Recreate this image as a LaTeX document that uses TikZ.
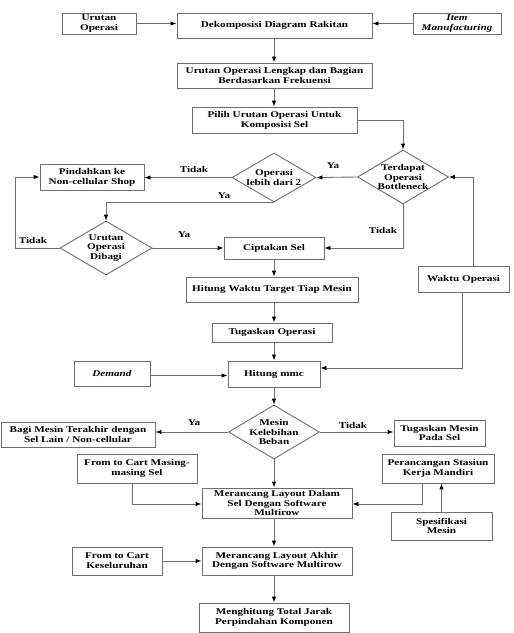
\documentclass[tikz,border=0pt]{standalone}
\usepackage{fontspec}
\setmainfont{Liberation Serif}[FakeStretch=1.27]
\usetikzlibrary{arrows.meta,shapes.geometric,calc}
\definecolor{ln}{HTML}{6E6E6E}
\tikzset{
  box/.style={draw=ln,line width=0.9pt,rectangle,inner sep=0pt,align=center,font=\fontsize{8.8}{9.8}\selectfont\bfseries},
  dia/.style={draw=ln,line width=0.9pt,diamond,inner sep=0pt},
  dtxt/.style={inner sep=0pt,align=center,font=\fontsize{8.8}{9.8}\selectfont\bfseries},
  arr/.style={draw=ln,line width=0.9pt,-{Latex[length=6pt,width=4.5pt,color=black]}},
  lnk/.style={draw=ln,line width=0.9pt},
  lab/.style={inner sep=0pt,font=\fontsize{8.8}{9.8}\selectfont\bfseries}
}
\begin{document}
\begin{tikzpicture}[x=1pt,y=-1pt]
\useasboundingbox (0,0) rectangle (514,633);
% boxes
\node[box,minimum width=74pt,minimum height=21pt] (urut) at (99,23.5) {Urutan\\Operasi};
\node[box,minimum width=195pt,minimum height=25pt] (dek) at (274.5,25.5) {Dekomposisi Diagram Rakitan};
\node[box,minimum width=88pt,minimum height=21pt] (item) at (457,23.5) {\textit{Item}\\\textit{Manufacturing}};
\node[box,minimum width=195pt,minimum height=25pt] (lengkap) at (274.5,75.5) {Urutan Operasi Lengkap dan Bagian\\Berdasarkan Frekuensi};
\node[box,minimum width=165pt,minimum height=26pt] (pilih) at (274.5,120) {Pilih Urutan Operasi Untuk\\Komposisi Sel};
\node[dia,minimum width=91pt,minimum height=54pt] (terdapat) at (403,177) {};
\node[dtxt] (terdapatT) at (403,177) {Terdapat\\Operasi\\Bottleneck};
\node[dia,minimum width=84pt,minimum height=49pt] (lebih) at (274,177.5) {};
\node[dtxt] (lebihT) at (274,177.5) {Operasi\\lebih dari 2};
\node[box,minimum width=104pt,minimum height=26pt] (pindah) at (92,177) {Pindahkan ke\\Non-cellular Shop};
\node[dia,minimum width=92pt,minimum height=54pt] (dibagi) at (106,248) {};
\node[dtxt] (dibagiT) at (106,248) {Urutan\\Operasi\\Dibagi};
\node[box,minimum width=100pt,minimum height=22pt] (cipta) at (274,248) {Ciptakan Sel};
\node[box,minimum width=91pt,minimum height=26pt] (waktu) at (463.5,279) {Waktu Operasi};
\node[box,minimum width=172pt,minimum height=25pt] (target) at (272,289.5) {Hitung Waktu Target Tiap Mesin};
\node[box,minimum width=120pt,minimum height=19pt] (tugas) at (272,332.5) {Tugaskan Operasi};
\node[box,minimum width=92pt,minimum height=26pt] (mmc) at (274,374) {Hitung mmc};
\node[box,minimum width=76pt,minimum height=25pt] (demand) at (112,373.5) {\textit{Demand}};
\node[dia,minimum width=91pt,minimum height=54pt] (beban) at (274,432) {};
\node[dtxt] (bebanT) at (274,432) {Mesin\\Kelebihan\\Beban};
\node[box,minimum width=154pt,minimum height=25pt] (bagi) at (78,434.5) {Bagi Mesin Terakhir dengan\\Sel Lain / Non-cellular};
\node[box,minimum width=91pt,minimum height=26pt] (tugmesin) at (439.5,433) {Tugaskan Mesin\\Pada Sel};
\node[box,minimum width=120pt,minimum height=29pt] (ftc1) at (137,468.5) {From to Cart Masing-\\masing Sel};
\node[box,minimum width=112pt,minimum height=29pt] (peran) at (438,468.5) {Perancangan Stasiun\\Kerja Mandiri};
\node[box,minimum width=150pt,minimum height=30pt] (dalam) at (277,503) {Merancang Layout Dalam\\Sel Dengan Software\\Multirow};
\node[box,minimum width=101pt,minimum height=28pt] (spek) at (441.5,526) {Spesifikasi\\Mesin};
\node[box,minimum width=150pt,minimum height=28pt] (akhir) at (277,561) {Merancang Layout Akhir\\Dengan Software Multirow};
\node[box,minimum width=90pt,minimum height=28pt] (ftc2) at (117,561) {From to Cart\\Keseluruhan};
\node[box,minimum width=150pt,minimum height=29pt] (total) at (274,617.5) {Menghitung Total Jarak\\Perpindahan Komponen};
% coordinates
\coordinate (lf) at (15,248);
\coordinate (wx) at (473,266);
% connectors
\draw[arr] (urut.east) -- (urut.east -| dek.west);
\draw[arr] (item.west) -- (item.west -| dek.east);
\draw[arr] (dek.south -| 274,0) -- (lengkap.north -| 274,0);
\draw[arr] (lengkap.south -| 274,0) -- (pilih.north -| 274,0);
\draw[arr] (pilih.east) -| (terdapat.north);
\draw[arr] (terdapat.west) -- (lebih.east);
\draw[arr] (lebih.west) -- (lebih.west -| pindah.east);
\draw[arr] (lebih.south) -| (dibagi.north);
\draw[lnk] (dibagi.west) -- (lf);
\draw[arr] (lf) |- (pindah.west);
\draw[arr] (dibagi.east) -- (dibagi.east -| cipta.west);
\draw[arr] (terdapat.south) |- (cipta.east);
\draw[arr] (wx) |- (terdapat.east);
\draw[arr] ([xshift=-1.5pt]waktu.south) |- ([yshift=6pt]mmc.east);
\draw[arr] (cipta.south -| 274,0) -- (target.north -| 274,0);
\draw[arr] (target.south -| 274,0) -- (tugas.north -| 274,0);
\draw[arr] (tugas.south -| 274,0) -- (mmc.north -| 274,0);
\draw[arr] ([yshift=-2pt]demand.east) -- ([yshift=-2pt]demand.east -| mmc.west);
\draw[arr] (mmc.south) -- (beban.north);
\draw[arr] (beban.west) -- (beban.west -| bagi.east);
\draw[arr] (beban.east) -- (beban.east -| tugmesin.west);
\draw[arr] (beban.south) -- (beban.south |- dalam.north);
\draw[arr] ([xshift=-5pt]ftc1.south) |- ([yshift=-1pt]dalam.west);
\draw[arr] ([xshift=-16pt]peran.south) |- ([yshift=-1pt]dalam.east);
\draw[arr] (spek.north) -- (spek.north |- peran.south);
\draw[arr] (dalam.south -| 274,0) -- (akhir.north -| 274,0);
\draw[arr] (ftc2.east) -- (akhir.west);
\draw[arr] (akhir.south -| 274,0) -- (total.north -| 274,0);
% labels
\node[lab] (l1) at (333,166) {Ya};
\node[lab] (l2) at (194,169) {Tidak};
\node[lab] (l3) at (224,196) {Ya};
\node[lab] (l4) at (33,240) {Tidak};
\node[lab] (l5) at (184,235) {Ya};
\node[lab] (l6) at (383,230) {Tidak};
\node[lab] (l7) at (194,423) {Ya};
\node[lab] (l8) at (353,425) {Tidak};
\end{tikzpicture}
\end{document}
